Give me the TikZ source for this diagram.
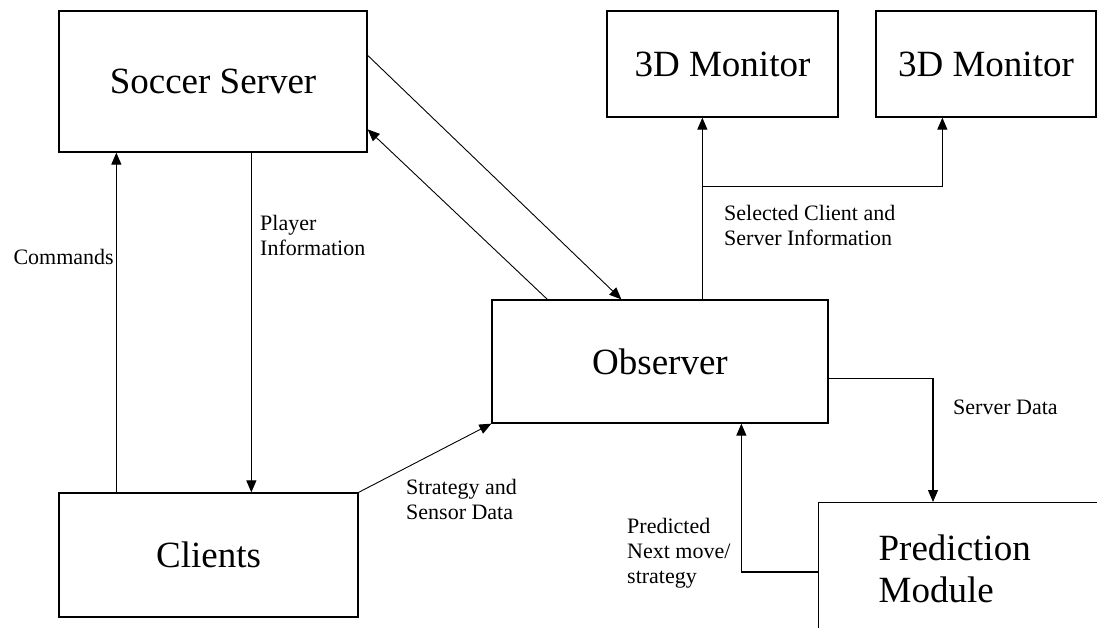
\documentclass[tikz,border=0pt]{standalone}
\usepackage{fontspec}
\setmainfont{Liberation Serif}
\usetikzlibrary{arrows.meta}

\tikzset{
    box/.style={draw, line width=1.3pt, inner sep=0pt,
        font=\fontsize{37}{42}\selectfont},
    lbl/.style={inner sep=0pt, align=left,
        font=\fontsize{22}{25}\selectfont},
    arr/.style={line width=1.1pt, -{Triangle[length=12pt,width=10pt]}},
    diag/.style={line width=0.9pt, -{Triangle[length=12pt,width=10pt]}}
}

\begin{document}
\begin{tikzpicture}[x=1pt, y=-1pt]
    \clip (0,0) rectangle (1097,628);
    \fill[white] (0,0) rectangle (1097,628);

    % The blocks
    \node[box, minimum width=308pt, minimum height=141pt] (server) at (213,81.5) {Soccer Server};
    \node[box, minimum width=299pt, minimum height=124pt] (clients) at (208.5,555) {Clients};
    \node[box, minimum width=336pt, minimum height=123pt] (observer) at (660,361.5) {Observer};
    \node[box, minimum width=231pt, minimum height=106pt] (monA) at (722.5,64) {3D Monitor};
    \node[box, minimum width=220pt, minimum height=106pt] (monB) at (986,64) {3D Monitor};
    \node[box, anchor=north west, inner xsep=60pt, text width=280pt, align=left,
        minimum height=132pt] (predict) at (818,502) {Prediction\\Module};

    % Server and clients
    \draw[arr] ([xshift=58pt]clients.north west) -- ([xshift=58pt]server.south west);
    \draw[arr] ([xshift=193pt]server.south west) -- ([xshift=193pt]clients.north west);

    % Server and observer
    \draw[diag] ([yshift=-45pt]server.north east) -- ([xshift=130pt]observer.north west);
    \draw[diag] ([xshift=56pt]observer.north west) -- ([yshift=-119pt]server.north east);
    \draw[diag] (clients.north east) -- (observer.south west);

    % Observer to the monitors
    \draw[arr] ([xshift=211pt]observer.north west) coordinate (tap) -- (tap |- monA.south);
    \coordinate (split) at ([yshift=113pt]tap);
    \draw[arr] (split) -| ([xshift=67pt]monB.south west);

    % Observer and prediction
    \draw[arr] ([yshift=-79pt]observer.north east) -| ([xshift=115pt]predict.north west);
    \draw[arr] ([yshift=-70pt]predict.north west) -| ([xshift=250pt]observer.south west);

    % Labels
    \node[lbl, anchor=east] (cmd) at (114,257) {Commands};
    \node[lbl, anchor=west] (pinfo) at (260,235.5) {Player\\Information};
    \node[lbl, anchor=west] (sdata) at (406,499.5) {Strategy and\\Sensor Data};
    \node[lbl, anchor=west] (sel) at (724,225.5) {Selected Client and\\Server Information};
    \node[lbl, anchor=west] (srv) at (953,407) {Server Data};
    \node[lbl, anchor=west] (pred) at (627,553.5) {Predicted\\Next move/\\strategy};
\end{tikzpicture}
\end{document}
